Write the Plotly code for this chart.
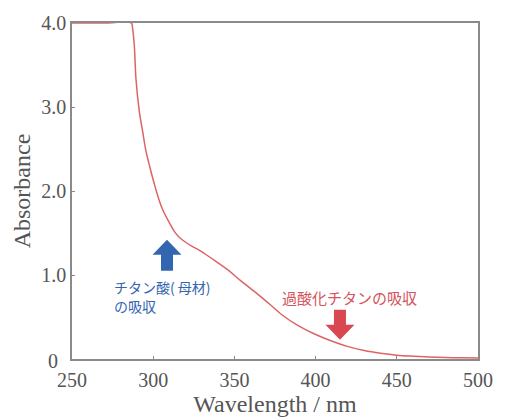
import plotly.graph_objects as go

wavelength = [250, 270, 286.5, 287.2, 288.4, 289.4, 291.5, 293.5, 295.5, 298, 300.6, 303.5, 306,
              310, 313, 316, 320, 324, 328, 332, 338, 346, 354, 364.5, 372.5, 379, 389, 399, 409,
              419.5, 430, 440, 450, 460, 470, 480, 490, 500]
absorbance = [4.0, 4.0, 4.0, 3.95, 3.72, 3.33, 2.94, 2.71, 2.48, 2.28, 2.09, 1.90, 1.77,
              1.62, 1.52, 1.45, 1.39, 1.34, 1.30, 1.25, 1.17, 1.06, 0.93, 0.77, 0.64, 0.53, 0.40,
              0.30, 0.22, 0.15, 0.10, 0.068, 0.045, 0.033, 0.024, 0.018, 0.014, 0.012]

x_ticks = [250, 300, 350, 400, 450, 500]
x_tick_labels = ["250", "300", "350", "400", "450", "500"]
y_ticks = [1, 2, 3, 4]
y_tick_labels = ["1.0", "2.0", "3.0", "4.0"]
y_zero_label = "0"

label_parent_1 = "チタン酸( 母材)"
label_parent_2 = "の吸収"
label_peroxo = "過酸化チタンの吸収"

blue_arrow_pos = (308.5, 1.05)   # base of up arrow
red_arrow_pos = (415, 0.585)     # top of down arrow

LINE_RED = "#dc6464"
BLUE = "#3465b0"
RED_TXT = "#d4545c"
RED_ARROW = "#d94850"
GRAY = "#555555"
AXIS = "#8a8a8a"
SERIF = "Liberation Serif, Times New Roman, serif"
JP = "Noto Sans CJK JP"

fig = go.Figure()
fig.add_trace(go.Scatter(x=wavelength, y=absorbance, mode="lines",
                         line=dict(color=LINE_RED, width=1.5, shape="spline", smoothing=1.0),
                         hoverinfo="skip", showlegend=False, cliponaxis=False))

axis_common = dict(showline=True, linecolor=AXIS, linewidth=1.5, mirror=True,
                   ticks="inside", ticklen=3, tickcolor=AXIS, showgrid=False, zeroline=False,
                   layer="below traces",
                   tickfont=dict(family=SERIF, size=20, color=GRAY))

fig.update_xaxes(range=[250, 500], tickvals=x_ticks, ticktext=x_tick_labels, ticklabelstandoff=2,
                 title=dict(text="Wavelength / nm", font=dict(family=SERIF, size=24, color=GRAY),
                            standoff=0), **axis_common)
fig.update_yaxes(range=[0, 4], tickvals=y_ticks, ticktext=y_tick_labels,
                 title=dict(text="Absorbance", font=dict(family=SERIF, size=24, color=GRAY),
                            standoff=4), **axis_common)

fig.add_annotation(x=0, y=0, xref="paper", yref="y", text=y_zero_label, showarrow=False,
                   xanchor="right", yanchor="bottom", xshift=-12, yshift=-15,
                   font=dict(family=SERIF, size=20, color=GRAY))

up_path = "M -6,0 L 6,0 L 6,16 L 14.5,16 L 0,31 L -14.5,16 L -6,16 Z"
down_path = "M -6,0 L 6,0 L 6,-15 L 14.5,-15 L 0,-30 L -14.5,-15 L -6,-15 Z"
fig.add_shape(type="path", path=up_path, xref="x", yref="y", xsizemode="pixel", ysizemode="pixel",
              xanchor=blue_arrow_pos[0], yanchor=blue_arrow_pos[1],
              fillcolor=BLUE, line=dict(width=0))
fig.add_shape(type="path", path=down_path, xref="x", yref="y", xsizemode="pixel", ysizemode="pixel",
              xanchor=red_arrow_pos[0], yanchor=red_arrow_pos[1],
              fillcolor=RED_ARROW, line=dict(width=0))

fig.add_annotation(x=274.4, y=0.855, xref="x", yref="y", text=label_parent_1, showarrow=False,
                   xanchor="left", yanchor="middle", align="left",
                   font=dict(family=JP, size=14, color=BLUE))
fig.add_annotation(x=274.4, y=0.635, xref="x", yref="y", text=label_parent_2, showarrow=False,
                   xanchor="left", yanchor="middle", align="left",
                   font=dict(family=JP, size=14, color=BLUE))
fig.add_annotation(x=421, y=0.73, xref="x", yref="y", text=label_peroxo, showarrow=False,
                   xanchor="center", yanchor="middle",
                   font=dict(family=JP, size=15, color=RED_TXT))

fig.update_layout(width=505, height=420, margin=dict(l=72, r=23, t=19, b=57),
                  plot_bgcolor="white", paper_bgcolor="white")

fig.write_html("out.html")
